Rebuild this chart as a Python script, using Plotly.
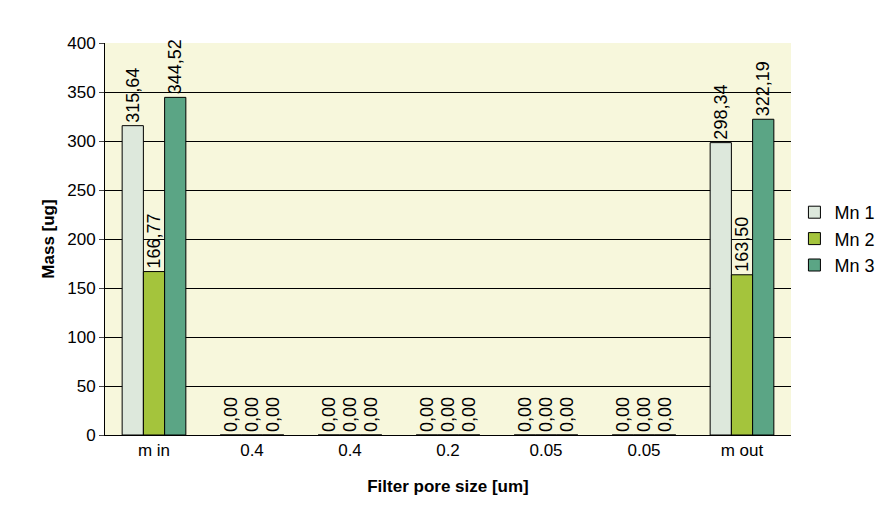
import plotly.graph_objects as go

# data
categories = ["m in", "0.4", "0.4", "0.2", "0.05", "0.05", "m out"]
mn1 = [315.64, 0, 0, 0, 0, 0, 298.34]
mn2 = [166.77, 0, 0, 0, 0, 0, 163.50]
mn3 = [344.52, 0, 0, 0, 0, 0, 322.19]

series = [("Mn 1", mn1, "#DDE8DC"), ("Mn 2", mn2, "#A4C43C"), ("Mn 3", mn3, "#5BA585")]
xpos = list(range(len(categories)))

fig = go.Figure()
for name, vals, col in series:
    fig.add_trace(go.Bar(
        name=name, x=xpos, y=vals,
        marker=dict(color=col, line=dict(color="black", width=1)),
        text=[f"{v:.2f}".replace(".", ",") for v in vals],
        textposition="outside", textangle=-90,
        textfont=dict(size=18, color="black"),
        cliponaxis=False,
    ))

fig.update_layout(
    width=884, height=526,
    barmode="group", bargap=0.35, bargroupgap=0,
    plot_bgcolor="#F7F7DC", paper_bgcolor="white",
    font=dict(family="Liberation Sans, Arial", size=18, color="black"),
    margin=dict(l=97, r=101, t=35, b=99),
    legend=dict(x=1.005, y=0.5, yanchor="middle", font=dict(size=18),
                itemwidth=30, tracegroupgap=2),
    uniformtext=dict(minsize=18, mode="show"),
)
fig.update_xaxes(
    tickvals=xpos, ticktext=categories, range=[-0.5, 6.5],
    showline=True, linecolor="black", ticks="",
    tickfont=dict(size=17),
    title=dict(text="<b>Filter pore size [um]</b>", font=dict(size=17), standoff=20),
)
fig.update_yaxes(
    range=[0, 400], dtick=50, showgrid=True, gridcolor="black", gridwidth=1,
    showline=True, linecolor="black", ticks="outside", ticklen=5,
    tickfont=dict(size=17),
    title=dict(text="<b>Mass [ug]</b>", font=dict(size=17), standoff=8),
    zeroline=False,
)
fig.write_html("out.html")
